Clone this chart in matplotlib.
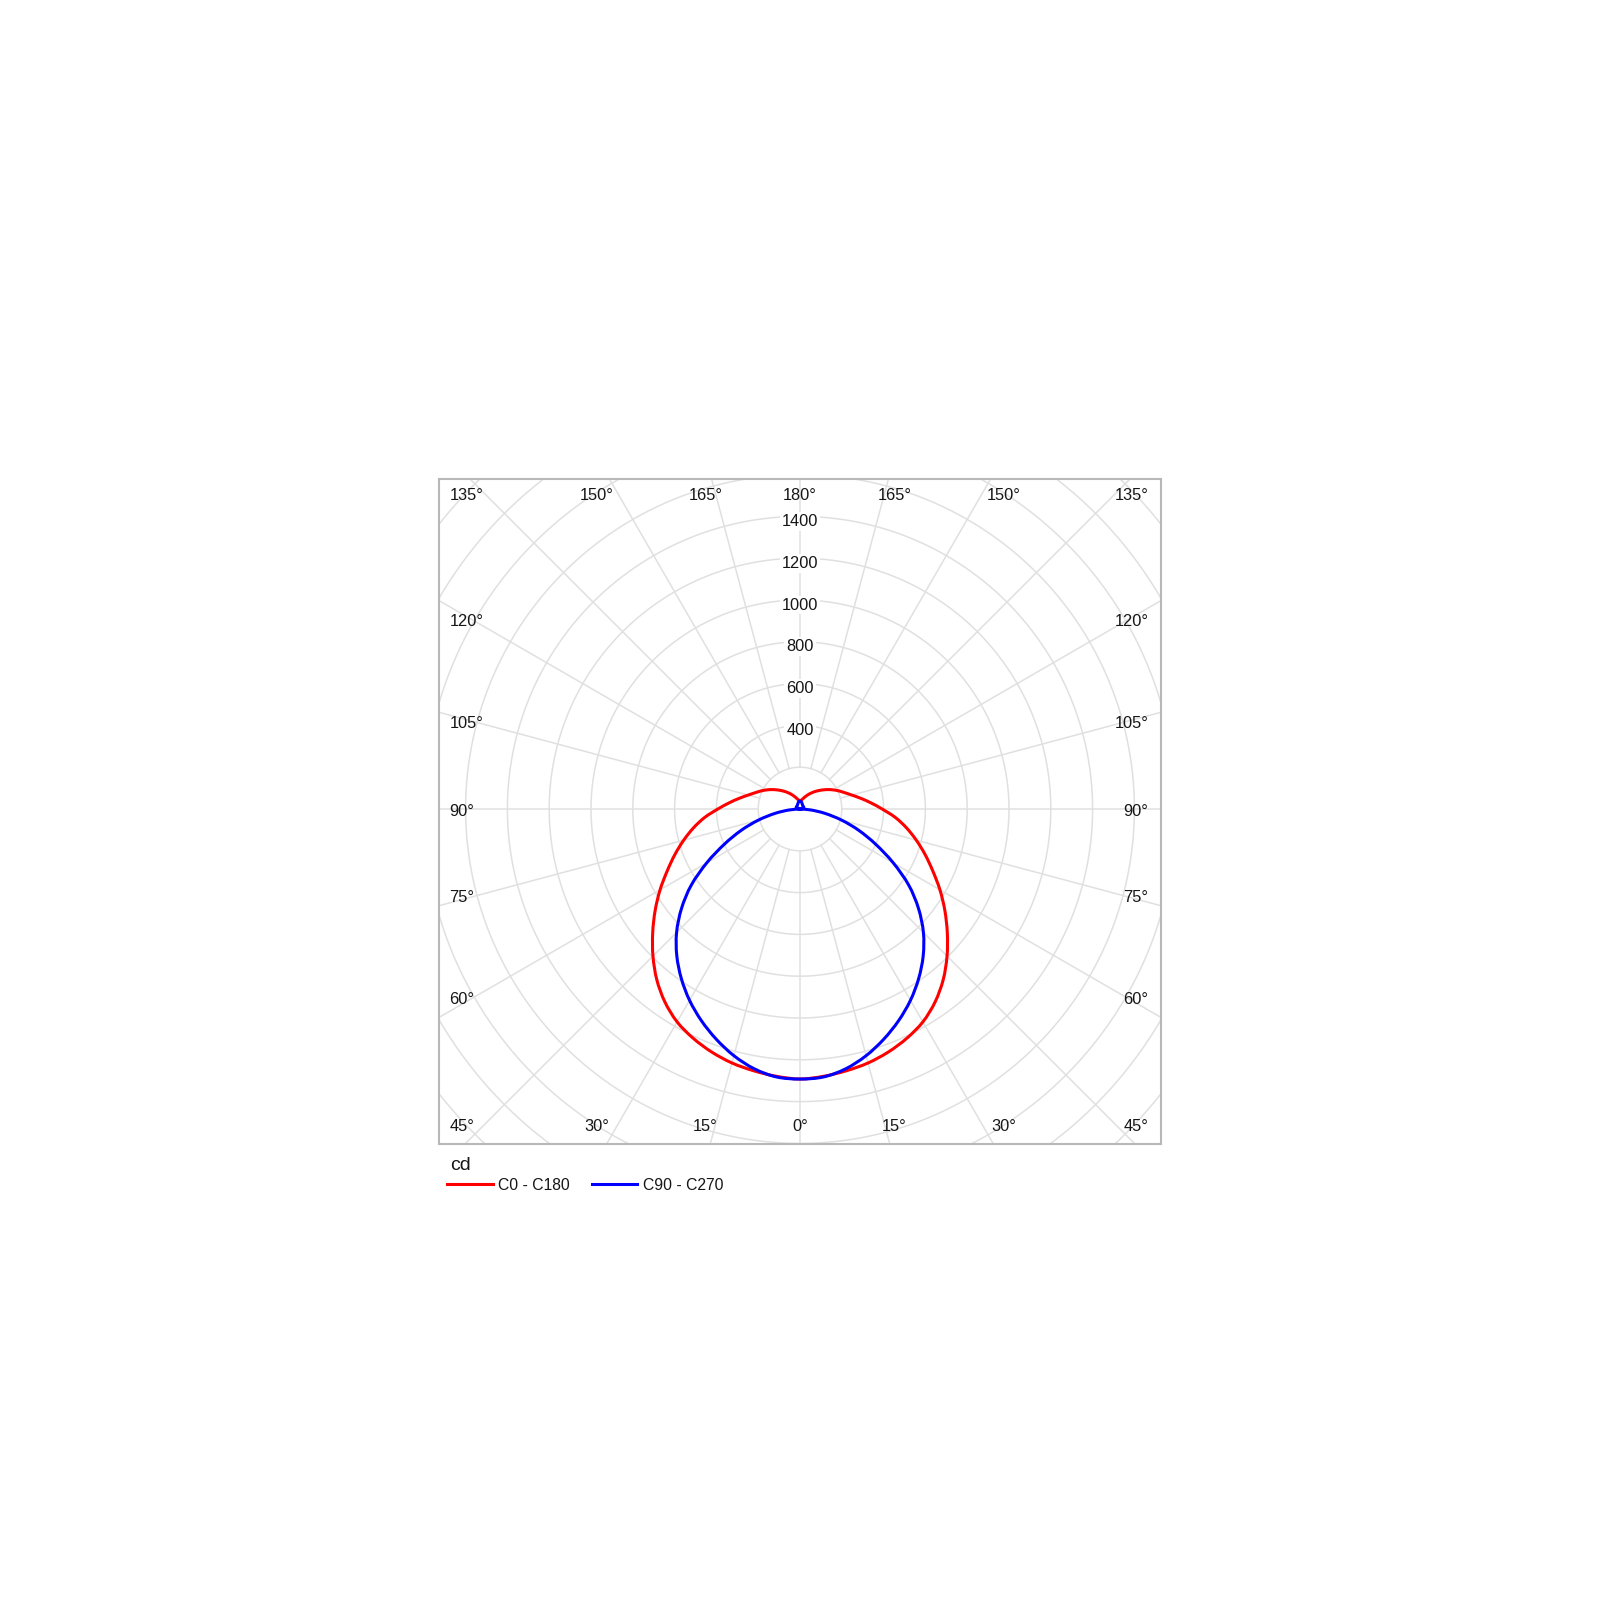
import numpy as np
import matplotlib
matplotlib.use("Agg")
import matplotlib.pyplot as plt
from matplotlib.lines import Line2D
from matplotlib.path import Path
from matplotlib.patches import PathPatch

# ---------------- data ----------------
gamma_deg = list(range(0, 181, 5))
c0_c180 = [1292, 1284, 1272, 1258, 1237, 1210, 1176, 1127, 1066, 995,
           920, 846, 773, 701, 637, 576, 517, 457, 393, 340,
           295, 257, 228, 205, 183, 162, 142, 124, 108, 93,
           80, 68, 58, 50, 44, 40, 38]
c90_c270 = [1292, 1287, 1262, 1222, 1172, 1117, 1057, 990, 917, 835,
            740, 635, 515, 400, 300, 207, 122, 52, 0, 8,
            12, 15, 18, 20, 20, 20, 20, 20, 20, 22,
            24, 26, 28, 32, 35, 38, 40]
series_names = ["C0 - C180", "C90 - C270"]
series_colors = ["#ff0000", "#0000ff"]
ring_values = [400, 600, 800, 1000, 1200, 1400]
unit_label = "cd"

# ---------------- layout ----------------
W = H = 1600
DPI = 100
plt.rcParams['font.family'] = ["Liberation Sans", "DejaVu Sans"]
txt_col = "#161616"

bx0, bx1, by0, by1 = 439, 1161, 479, 1144   # box in pixels
cx, cy = 800, 809                            # polar centre in pixels
px_per_200 = 41.8
cd_per_px = 200.0 / px_per_200

fig = plt.figure(figsize=(W / DPI, H / DPI), dpi=DPI)
ax = fig.add_axes([bx0 / W, 1 - by1 / H, (bx1 - bx0) / W, (by1 - by0) / H])
ax.set_xlim((bx0 - cx) * cd_per_px, (bx1 - cx) * cd_per_px)
ax.set_ylim((cy - by1) * cd_per_px, (cy - by0) * cd_per_px)
ax.set_xticks([])
ax.set_yticks([])
for s in ax.spines.values():
    s.set_color("#b8b8b8")
    s.set_linewidth(1.5)

grid_col = "#e0e0e0"
tt = np.linspace(0, 2 * np.pi, 721)
for r in range(200, 2601, 200):
    ax.plot(r * np.cos(tt), r * np.sin(tt), color=grid_col, lw=1.1, zorder=1)
for a in range(0, 360, 15):
    t = np.deg2rad(a)
    ax.plot([200 * np.sin(t), 3000 * np.sin(t)], [-200 * np.cos(t), -3000 * np.cos(t)],
            color=grid_col, lw=1.1, zorder=1)

for rv in ring_values:
    ax.text(0, rv - 5 * cd_per_px, str(rv), ha='center', va='center', fontsize=11.8,
            color=txt_col, zorder=4,
            bbox=dict(boxstyle='square,pad=0.12', fc='white', ec='none'))

def px2d(px, py):
    return (px - cx) * cd_per_px, (cy - py) * cd_per_px

lab_kw = dict(fontsize=11.8, color=txt_col, va='center', zorder=6)
top_y, bot_y = 496, 1126.5
left_x, right_x = 449.5, 1148.5
for row_y, labs in [(top_y, [("135°", None), ("150°", 203.5), ("165°", 94.5)]),
                    (bot_y, [("45°", None), ("30°", 203.5), ("15°", 94.5)])]:
    for lab, dx in labs:
        if dx is None:
            ax.text(*px2d(left_x, row_y), lab, ha='left', **lab_kw)
            ax.text(*px2d(right_x, row_y), lab, ha='right', **lab_kw)
        else:
            ax.text(*px2d(cx - dx, row_y), lab, ha='center', **lab_kw)
            ax.text(*px2d(cx + dx, row_y), lab, ha='center', **lab_kw)
ax.text(*px2d(cx, top_y), "180°", ha='center', **lab_kw)
ax.text(*px2d(cx, bot_y), "0°", ha='center', **lab_kw)
for lab, py in [("120°", 622), ("105°", 723.5), ("90°", 811), ("75°", 898), ("60°", 1000)]:
    ax.text(*px2d(left_x, py), lab, ha='left', **lab_kw)
    ax.text(*px2d(right_x, py), lab, ha='right', **lab_kw)

# ---------------- curves: smooth (Catmull-Rom) path through the data points ----------------
def smooth_path(xs, ys):
    P = np.column_stack([xs, ys])
    n = len(P)
    Pe = np.vstack([P[0], P, P[-1]])
    verts = [P[0]]
    codes = [Path.MOVETO]
    for i in range(n - 1):
        p0, p1, p2, p3 = Pe[i], Pe[i + 1], Pe[i + 2], Pe[i + 3]
        c1 = p1 + (p2 - p0) / 6.0
        c2 = p2 - (p3 - p1) / 6.0
        verts += [c1, c2, p2]
        codes += [Path.CURVE4] * 3
    return Path(np.array(verts), codes)

g = np.array(gamma_deg, dtype=float)
for vals, col, name in zip([c0_c180, c90_c270], series_colors, series_names):
    v = np.array(vals, dtype=float)
    th = np.deg2rad(np.concatenate([-g[::-1], g[1:]]))
    rr = np.concatenate([v[::-1], v[1:]])
    xs = rr * np.sin(th)
    ys = -rr * np.cos(th)
    ax.add_patch(PathPatch(smooth_path(xs, ys), fill=False, edgecolor=col, lw=2.2,
                           zorder=5, joinstyle='round', label=name))

# ---------------- unit + legend ----------------
fig.text(450 / W, 1 - 1166 / H, unit_label, fontsize=14, color=txt_col,
         ha='left', va='center')
leg_items = [(447, 493, 498, series_names[0], series_colors[0]),
             (592, 637, 643, series_names[1], series_colors[1])]
for x0, x1, xt, name, col in leg_items:
    fig.add_artist(Line2D([x0 / W, x1 / W], [1 - 1184 / H, 1 - 1184 / H],
                          transform=fig.transFigure, color=col, lw=2.2))
    fig.text(xt / W, 1 - 1186 / H, name, fontsize=11.3, color=txt_col,
             ha='left', va='center')

fig.savefig("out.png", dpi=DPI, facecolor='white')
